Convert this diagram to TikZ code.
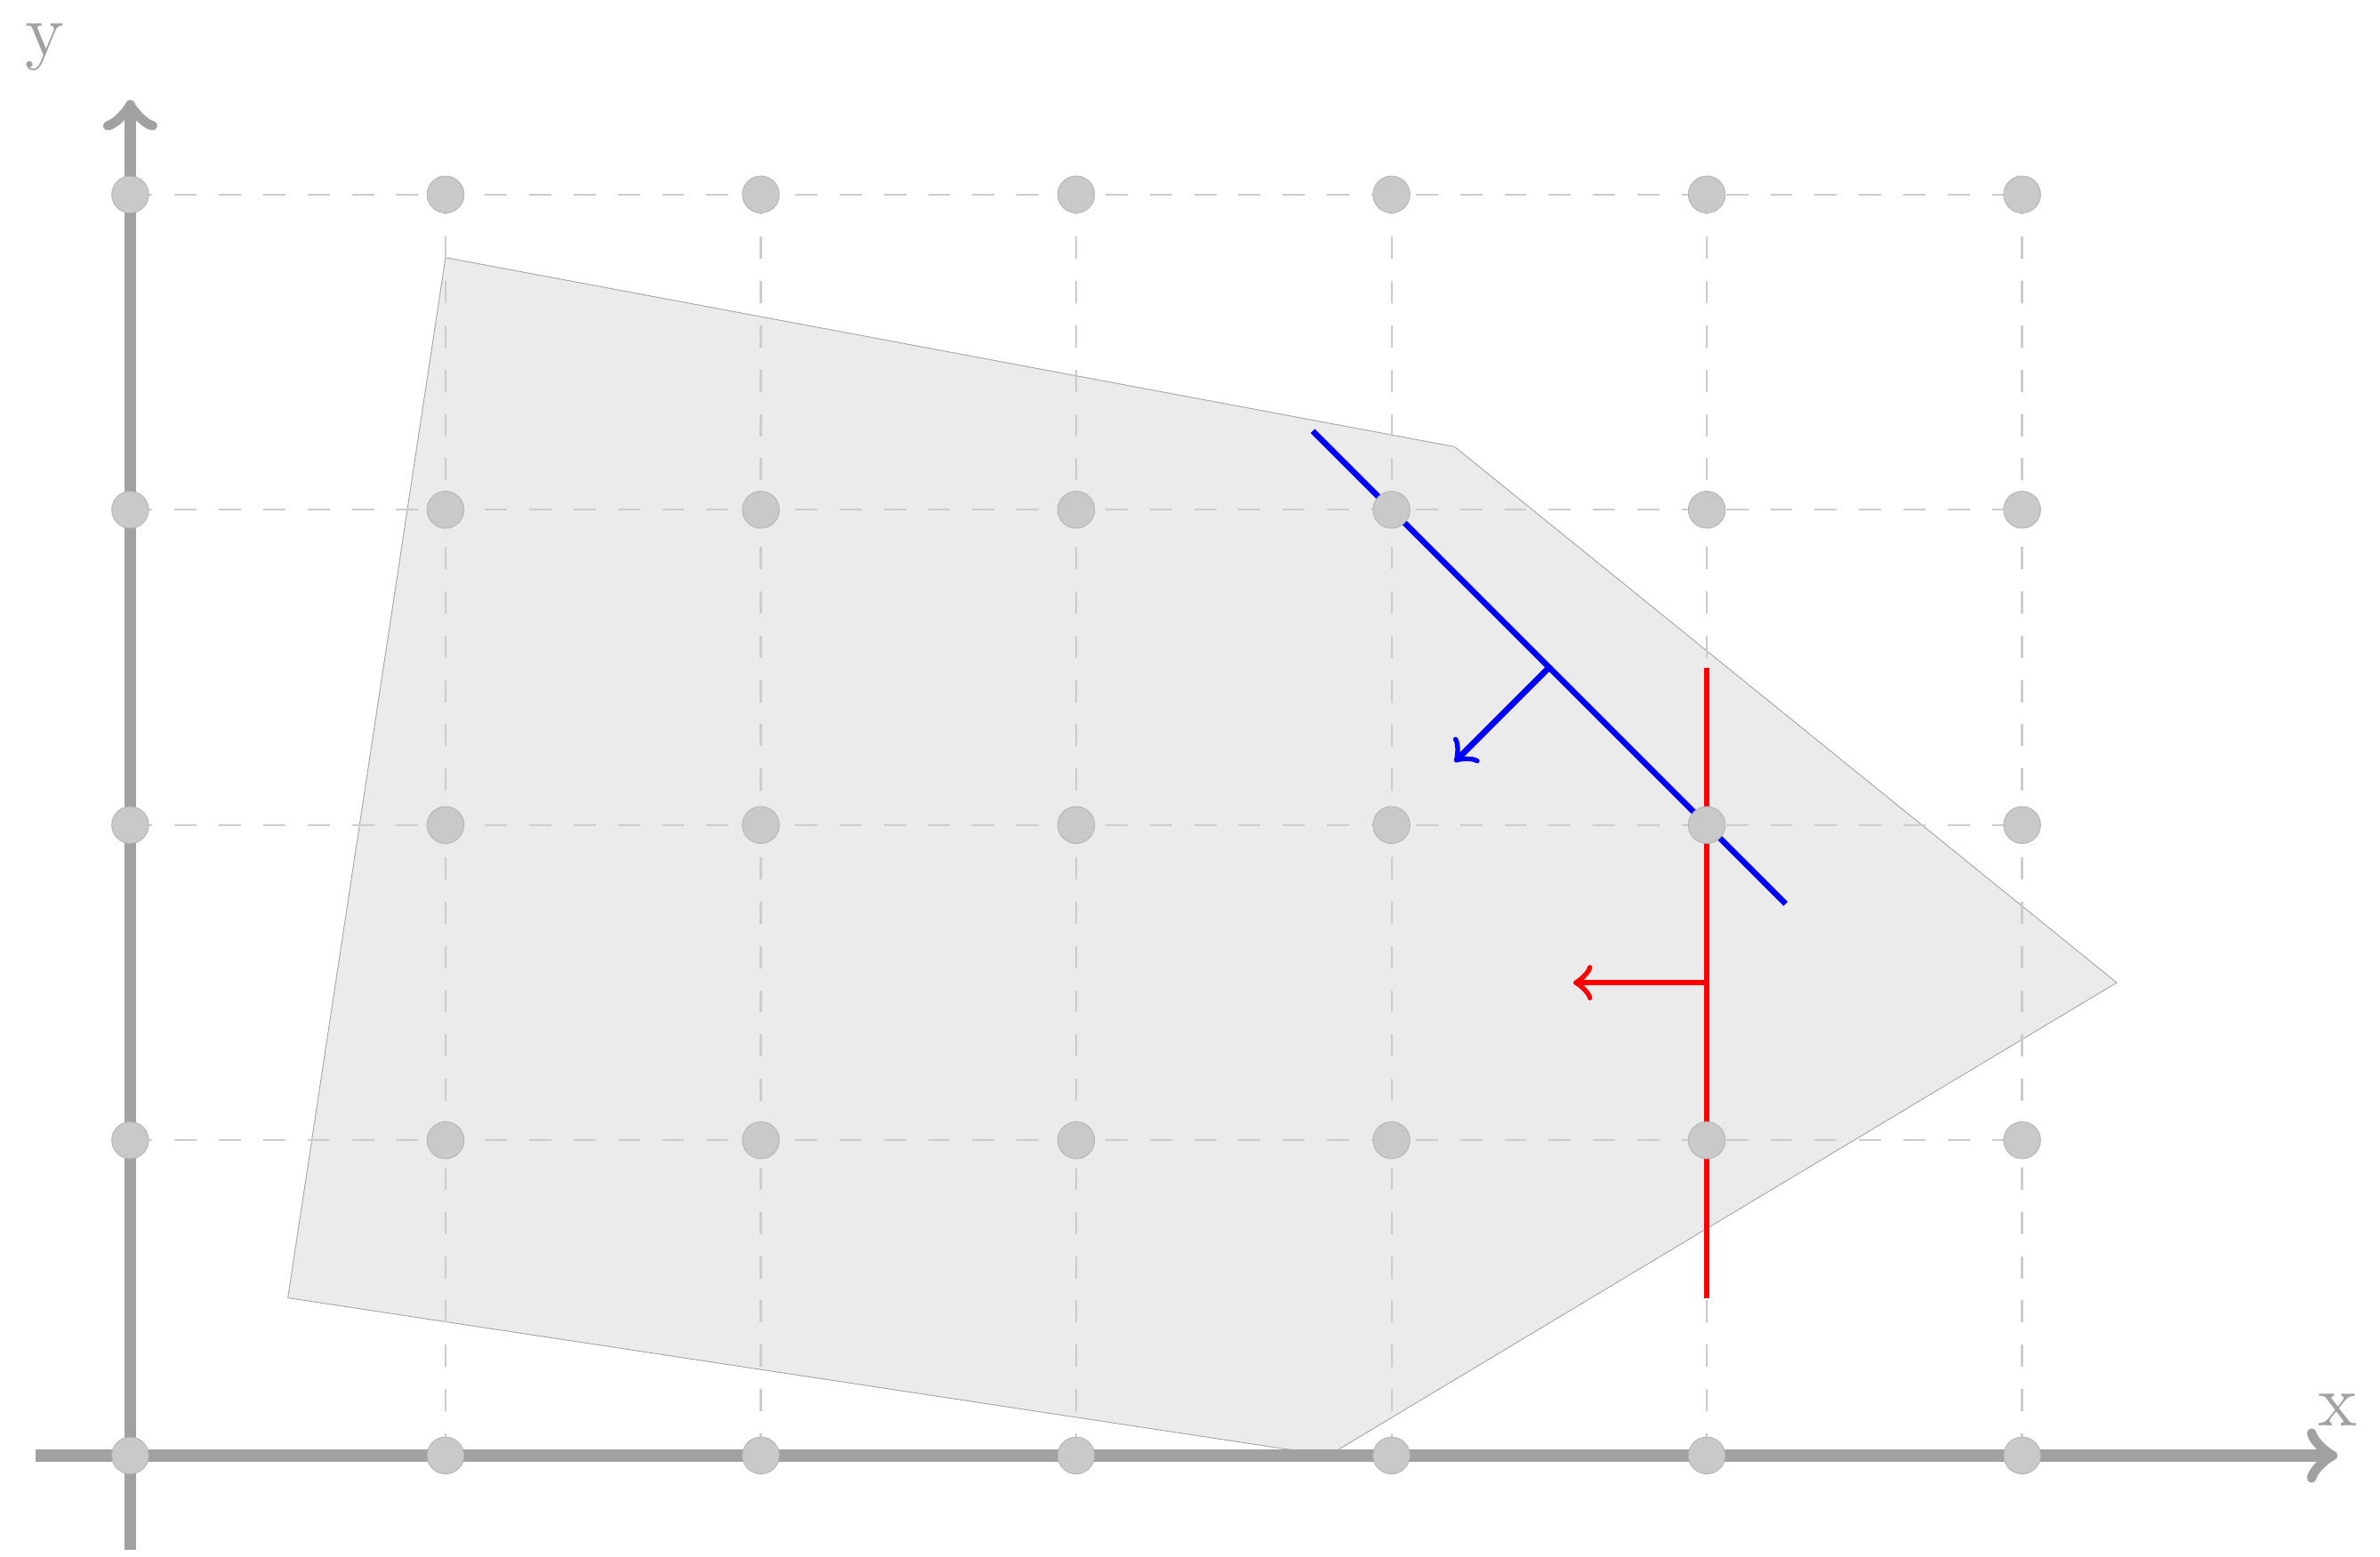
\documentclass[tikz,border=0pt]{standalone}
\usetikzlibrary{arrows.meta}
\definecolor{axisgray}{gray}{0.63}
\definecolor{dotgray}{gray}{0.79}
\definecolor{polyfill}{gray}{0.92}
\definecolor{gridgray}{gray}{0.8}
\tikzset{
  axisline/.style={axisgray, line width=1.6pt, -to},
  gridline/.style={gridgray, line width=0.25pt, dash pattern=on 3pt off 3pt},
  latdot/.style={fill=dotgray, draw=gray!60, line width=0.1pt},
  region/.style={fill=polyfill, draw=gray!75, line width=0.1pt},
  halfline/.style={line width=0.8pt},
  normalarrow/.style={line width=0.8pt, -to},
  axislabel/.style={text=axisgray, inner sep=0pt}
}
\begin{document}
\begin{tikzpicture}[x=1.5cm,y=1.5cm]
\useasboundingbox (-0.413,-0.320) rectangle (7.135,4.617);
% feasible region
\coordinate (A) at (1,3.8);
\coordinate (B) at (4.2,3.2);
\coordinate (C) at (6.3,1.5);
\coordinate (D) at (3.8,0);
\coordinate (E) at (0.5,0.5);
\fill[region] (A) -- (B) -- (C) -- (D) -- (E) -- cycle;
% grid
\draw[gridline, step=1.5cm] (0,0) grid (6,4);
% axes
\coordinate (xs) at (-0.3,0);
\coordinate (xe) at (7,0);
\coordinate (ys) at (0,-0.3);
\coordinate (ye) at (0,4.3);
\draw[axisline] (xs) -- (xe);
\draw[axisline] (ys) -- (ye);
\node[axislabel] (xl) at (7,0.146) {x};
\node[axislabel] (yl) at (-0.272,4.467) {y};
% blue constraint
\coordinate (b1) at (3.75,3.25);
\coordinate (b2) at (5.25,1.75);
\coordinate (bm) at (4.5,2.5);
\coordinate (bn) at (4.2,2.2);
\draw[blue, halfline] (b1) -- (b2);
\draw[blue, normalarrow] (bm) -- (bn);
% red constraint
\coordinate (r1) at (5,0.5);
\coordinate (r2) at (5,2.5);
\coordinate (rm) at (5,1.5);
\coordinate (rn) at (4.576,1.5);
\draw[red, halfline] (r1) -- (r2);
\draw[red, normalarrow] (rm) -- (rn);
% lattice points
\foreach \i in {0,...,6}{
  \foreach \j in {0,...,4}{
    \fill[latdot] (\i,\j) circle[radius=2.5pt];
  }
}
\end{tikzpicture}
\end{document}
